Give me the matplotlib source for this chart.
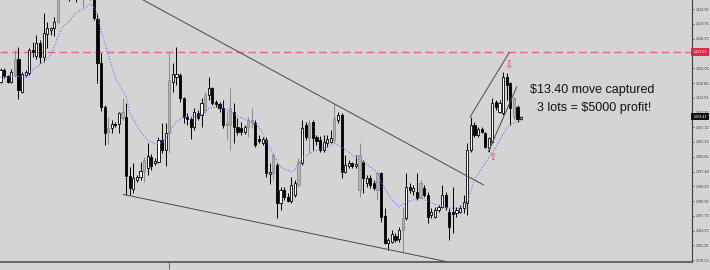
import matplotlib.pyplot as plt
from matplotlib.patches import Rectangle

# --- candle data (price) ---
opens = [1317.0, 1319.7, 1318.4, 1317.0, 1318.6, 1322.1, 1314.9, 1318.6, 1319.0, 1324.1,
         1322.7, 1325.6, 1322.5, 1327.6, 1328.4, 1328.9, 1330.2, 1336.1, 1339.4, 1340.5,
         1338.3, 1339.4, 1337.2, 1338.3, 1336.1, 1337.6, 1335.7, 1330.8, 1321.2, 1311.6,
         1306.1, 1307.0, 1307.8, 1307.8, 1309.2, 1309.4, 1296.5, 1293.6, 1295.6, 1296.2,
         1297.6, 1298.2, 1300.6, 1299.3, 1299.5, 1304.3, 1302.2, 1305.9, 1317.0, 1318.1,
         1318.6, 1313.5, 1309.4, 1308.9, 1307.2, 1310.3, 1309.8, 1310.9, 1314.2, 1315.7,
         1312.7, 1312.2, 1311.3, 1307.6, 1307.6, 1310.5, 1307.2, 1307.0, 1306.1, 1307.2,
         1308.3, 1308.1, 1304.6, 1303.7, 1304.3, 1296.9, 1297.1, 1298.9, 1290.5, 1293.4,
         1291.9, 1291.0, 1292.3, 1294.5, 1299.3, 1307.6, 1304.8, 1308.3, 1305.0, 1304.3,
         1302.2, 1303.7, 1303.9, 1304.3, 1308.7, 1309.8, 1297.3, 1298.6, 1299.3, 1298.6,
         1301.1, 1299.5, 1294.9, 1296.0, 1294.9, 1293.4, 1297.1, 1287.7, 1281.8, 1282.0,
         1283.3, 1282.7, 1284.6, 1287.3, 1294.0, 1293.2, 1293.0, 1291.9, 1293.8, 1292.3,
         1287.9, 1287.5, 1289.0, 1289.7, 1292.3, 1288.6, 1288.6, 1288.4, 1288.6, 1289.4,
         1290.5, 1302.2, 1307.6, 1305.4, 1306.7, 1305.9, 1302.6, 1303.9, 1312.7, 1310.5,
         1310.3, 1318.1, 1316.8, 1313.5, 1311.6, 1308.9]
highs = [1320.1, 1320.1, 1318.6, 1319.9, 1324.1, 1324.7, 1319.2, 1319.7, 1324.5, 1325.8,
         1327.3, 1326.2, 1332.2, 1330.2, 1329.1, 1331.3, 1338.3, 1341.6, 1342.7, 1341.6,
         1341.1, 1340.5, 1339.8, 1339.4, 1338.9, 1339.4, 1337.2, 1332.2, 1323.4, 1312.0,
         1309.4, 1308.7, 1308.3, 1310.5, 1313.5, 1312.4, 1298.4, 1299.3, 1296.7, 1299.5,
         1300.6, 1303.7, 1301.3, 1300.4, 1305.0, 1308.1, 1308.1, 1323.6, 1321.2, 1324.7,
         1319.0, 1313.8, 1310.3, 1309.4, 1311.3, 1310.9, 1313.5, 1314.9, 1318.1, 1315.9,
         1313.1, 1312.7, 1313.1, 1310.5, 1315.7, 1312.4, 1309.2, 1308.3, 1307.6, 1309.4,
         1311.3, 1308.7, 1305.4, 1305.0, 1305.0, 1299.3, 1301.5, 1299.3, 1294.0, 1294.0,
         1292.7, 1296.2, 1295.6, 1300.4, 1308.7, 1308.3, 1308.7, 1308.7, 1305.4, 1305.2,
         1305.4, 1305.4, 1306.5, 1312.4, 1310.5, 1310.3, 1301.1, 1300.0, 1299.5, 1301.1,
         1303.7, 1300.0, 1296.7, 1296.7, 1295.6, 1297.3, 1297.3, 1289.4, 1282.9, 1284.6,
         1284.0, 1285.3, 1289.7, 1297.1, 1294.9, 1294.5, 1297.1, 1295.6, 1294.5, 1293.0,
         1289.4, 1289.7, 1290.1, 1294.5, 1293.0, 1289.4, 1294.0, 1289.7, 1290.1, 1292.3,
         1303.7, 1309.4, 1308.3, 1307.2, 1307.2, 1306.1, 1305.0, 1313.5, 1313.1, 1313.1,
         1319.2, 1319.0, 1317.0, 1313.8, 1312.0, 1309.6]
lows = [1316.8, 1317.9, 1316.8, 1316.8, 1318.1, 1313.3, 1314.6, 1318.1, 1318.6, 1322.5,
        1322.1, 1321.2, 1321.4, 1324.5, 1327.3, 1327.1, 1329.9, 1335.7, 1337.6, 1334.8,
        1336.1, 1334.6, 1335.9, 1333.5, 1335.4, 1335.0, 1330.6, 1316.8, 1310.7, 1303.2,
        1303.5, 1305.9, 1307.2, 1305.9, 1308.7, 1292.3, 1292.3, 1292.7, 1295.1, 1295.6,
        1295.1, 1296.7, 1297.8, 1298.9, 1299.3, 1301.5, 1298.6, 1301.5, 1314.9, 1316.4,
        1312.7, 1308.1, 1307.6, 1304.6, 1306.5, 1308.7, 1307.2, 1310.3, 1313.1, 1312.0,
        1311.6, 1310.5, 1307.0, 1304.3, 1302.2, 1303.7, 1305.4, 1305.4, 1305.7, 1305.0,
        1307.0, 1302.8, 1303.7, 1303.2, 1296.2, 1294.7, 1295.6, 1287.3, 1289.0, 1291.2,
        1290.8, 1290.5, 1291.9, 1294.0, 1298.9, 1304.3, 1301.5, 1302.2, 1303.2, 1301.7,
        1301.7, 1302.8, 1303.7, 1303.7, 1308.1, 1296.0, 1297.1, 1298.2, 1298.2, 1298.2,
        1291.9, 1292.7, 1294.0, 1293.8, 1293.4, 1291.2, 1286.4, 1281.6, 1280.3, 1281.8,
        1282.0, 1282.0, 1279.8, 1286.8, 1292.7, 1292.3, 1291.2, 1291.6, 1291.9, 1286.2,
        1287.3, 1287.3, 1288.6, 1289.4, 1289.0, 1282.4, 1284.0, 1287.5, 1288.4, 1288.4,
        1287.9, 1301.7, 1305.0, 1305.0, 1305.9, 1302.6, 1301.7, 1303.7, 1310.9, 1310.3,
        1309.8, 1313.1, 1307.6, 1308.7, 1308.3, 1308.7]
closes = [1319.7, 1318.4, 1317.0, 1319.2, 1322.1, 1315.3, 1318.8, 1319.2, 1324.1, 1323.6,
          1325.6, 1322.5, 1327.8, 1328.9, 1328.9, 1330.2, 1336.1, 1339.4, 1340.5, 1338.3,
          1339.4, 1337.2, 1338.3, 1336.1, 1337.6, 1335.7, 1331.1, 1321.2, 1311.6, 1305.9,
          1307.0, 1307.8, 1307.7, 1310.3, 1310.5, 1296.5, 1293.8, 1296.0, 1296.2, 1297.6,
          1300.0, 1300.8, 1298.6, 1299.7, 1304.3, 1302.2, 1305.9, 1317.5, 1318.8, 1318.8,
          1313.5, 1309.4, 1308.9, 1307.2, 1310.5, 1309.2, 1312.4, 1314.2, 1315.7, 1312.4,
          1312.2, 1311.3, 1307.6, 1308.1, 1311.3, 1307.2, 1306.1, 1306.1, 1307.2, 1308.7,
          1308.7, 1303.2, 1304.1, 1304.6, 1297.1, 1297.3, 1301.1, 1290.5, 1293.4, 1291.9,
          1291.0, 1294.5, 1294.9, 1299.5, 1307.0, 1305.0, 1308.1, 1304.8, 1304.1, 1302.2,
          1303.9, 1304.6, 1304.8, 1309.2, 1309.8, 1297.3, 1298.9, 1299.3, 1298.6, 1299.0,
          1293.4, 1296.0, 1296.0, 1294.5, 1293.8, 1297.1, 1287.5, 1281.8, 1282.4, 1283.8,
          1282.4, 1284.6, 1287.3, 1294.0, 1293.4, 1293.8, 1291.6, 1294.9, 1292.3, 1287.5,
          1288.6, 1289.0, 1289.7, 1292.3, 1289.7, 1285.3, 1288.1, 1289.0, 1289.4, 1290.8,
          1302.2, 1307.6, 1305.4, 1306.7, 1306.1, 1302.8, 1304.8, 1312.4, 1311.6, 1312.4,
          1318.1, 1316.4, 1311.3, 1309.4, 1308.9, 1309.47]
# bars drawn in grey on the chart
grey_bars = [4, 16, 23, 30, 34, 40, 47, 57, 63, 64, 69, 70, 76, 83, 86, 93, 100, 105, 112, 117, 143]

# moving average
ma_idx = [0, 3, 7, 8, 10, 12, 14, 15, 16, 17, 19, 21, 23, 25, 26, 27, 28, 29, 32, 35,
          36, 39, 41, 43, 45, 47, 49, 51, 54, 56, 58, 61, 64, 67, 70, 72, 74, 76, 78, 81,
          82, 84, 87, 91, 93, 97, 100, 105, 106, 109, 111, 113, 117, 120, 125, 128, 130, 132,
          135, 138, 141, 143, 145]
ma_val = [1318.1, 1318.4, 1318.1, 1319.0, 1320.3, 1321.4, 1323.0, 1324.7, 1326.9, 1328.9,
          1330.2, 1332.2, 1333.0, 1334.1, 1333.5, 1331.7, 1328.4, 1325.8, 1317.9, 1313.8,
          1310.3, 1306.1, 1304.3, 1303.5, 1303.7, 1305.9, 1308.3, 1309.4, 1309.4, 1309.8,
          1311.3, 1311.6, 1310.5, 1309.2, 1308.3, 1307.2, 1304.3, 1301.1, 1298.4, 1297.3,
          1297.8, 1300.4, 1301.7, 1302.8, 1303.7, 1301.7, 1300.0, 1297.3, 1295.1, 1291.2,
          1289.7, 1290.8, 1291.6, 1290.5, 1289.4, 1289.4, 1290.8, 1295.6, 1299.3, 1302.8,
          1307.0, 1308.1, 1308.5]

# trend lines (bar index, price)
upper_trend = ([36, 134.5], [1336.6, 1294.5])
lower_trend = ([34.2, 123.8], [1292.4, 1277.75])
channel_top = ([130.8, 141.7], [1309.4, 1323.5])
channel_bot = ([135.9, 143.8], [1301.8, 1316.0])

resistance = 1323.55
arrow_up = (137, 1300.6)
arrow_down = (141.5, 1320.6)

ytick_vals = [1278.00, 1281.25, 1284.50, 1287.70, 1290.95, 1294.20, 1297.40, 1300.65,
              1303.90, 1307.10, 1310.35, 1313.55, 1316.80, 1320.05, 1326.50, 1329.75, 1332.95]

bg = '#d4d4d4'
fig = plt.figure(figsize=(7.1, 2.7), dpi=100)
fig.patch.set_facecolor(bg)
ax = fig.add_axes([0, 8 / 270, 692 / 710, 262 / 270])
ax.set_facecolor(bg)
ax.set_xlim(-0.14, 192.6)
ax.set_ylim(1277.6, 1335.0)

for i in range(len(opens)):
    o, h, l, c = opens[i], highs[i], lows[i], closes[i]
    if i in grey_bars:
        face, edge = '#b2b2b2', '#8a8a8a'
    elif c >= o:
        face, edge = 'white', 'black'
    else:
        face, edge = 'black', 'black'
    ax.vlines(i, l, h, color=edge, lw=0.7, zorder=2)
    ax.add_patch(Rectangle((i - 0.3, min(o, c)), 0.6, max(abs(c - o), 0.08),
                           facecolor=face, edgecolor=edge, lw=0.6, zorder=3))

ax.plot(ma_idx, ma_val, color='#6b6bff', ls=(0, (1, 1.6)), lw=0.8, zorder=4)

for xs, ys in (upper_trend, lower_trend, channel_top, channel_bot):
    ax.plot(xs, ys, color='#4a4a4a', lw=0.7, zorder=5)

ax.axhline(resistance, color='#e06a7c', lw=1.0, ls=(0, (5.5, 3)), zorder=1)

ax.text(*arrow_up, '\u21e7', color='#e0404f', fontsize=7, ha='center', va='center', zorder=6)
ax.text(*arrow_down, '\u21e9', color='#e0404f', fontsize=7, ha='center', va='center', zorder=6)

ax.text(0.856, 0.656, '\\$13.40 move captured', transform=ax.transAxes, ha='center', va='center',
        fontsize=9, family='Liberation Sans', color='#111111')
ax.text(0.859, 0.588, '3 lots = \\$5000 profit!', transform=ax.transAxes, ha='center', va='center',
        fontsize=9, family='Liberation Sans', color='#111111')

# axes look
for s in ('top', 'left'):
    ax.spines[s].set_visible(False)
ax.spines['right'].set_color('#404040')
ax.spines['right'].set_linewidth(0.8)
ax.spines['bottom'].set_color('#505050')
ax.spines['bottom'].set_linewidth(1.2)
ax.yaxis.tick_right()
ax.set_yticks(ytick_vals)
ax.set_yticklabels([f'{v:.2f}' for v in ytick_vals])
ax.tick_params(axis='y', length=1.5, width=0.5, color='#444444', labelsize=2.3,
               labelcolor='#333333', pad=0.8)
ax.set_xticks([47])
ax.set_xticklabels([])
ax.tick_params(axis='x', length=5, width=0.6, color='#555555')

tr = ax.get_yaxis_transform()
ax.text(1.002, resistance, f'{resistance:.2f}', transform=tr, ha='left', va='center',
        fontsize=2.3, color='white', clip_on=False, zorder=7,
        bbox=dict(boxstyle='square,pad=0.6', fc='#e0284a', ec='none'))
ax.text(1.002, closes[-1], f'{closes[-1]:.2f}', transform=tr, ha='left', va='center',
        fontsize=2.3, color='white', clip_on=False, zorder=7,
        bbox=dict(boxstyle='square,pad=0.6', fc='#111111', ec='none'))

fig.savefig('out.png', dpi=100, facecolor=bg)
